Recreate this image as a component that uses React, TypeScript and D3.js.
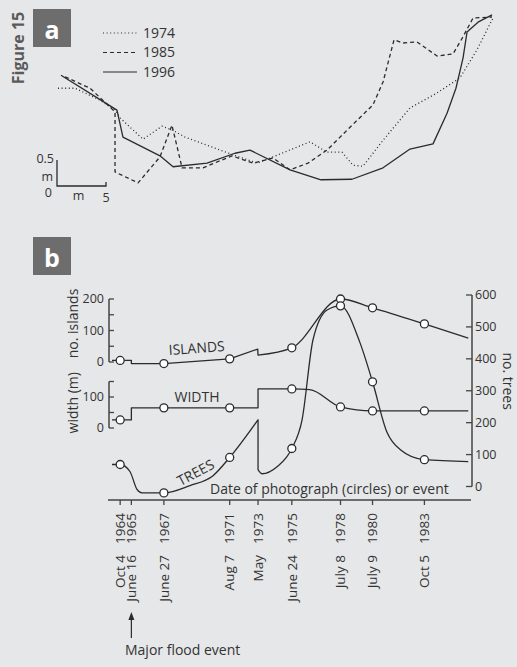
import { useEffect } from 'react';
import * as d3 from 'd3';

const W = 517;
const H = 667;
const BG = '#e6e7e9';
const INK = '#2b2b2b';
const TXT = '#333333';
const AXIS = '#454545';
const FONT = '"Open Sans", "Noto Sans", sans-serif';

// ---- panel a: channel cross-profiles (distance m, height m) ----
const legendYears = ['1974', '1985', '1996'];
const legendDash = ['1 2.6', '4 3', 'none'];

const profile1974: [number, number][] = [
    [0.1, 1.88], [1.84, 1.88], [4.39, 1.65], [5.92, 1.46], [6.43, 1.31], [8.78, 0.9],
    [10.71, 1.15], [11.73, 1.08], [13.06, 0.94], [17.96, 0.6], [20.41, 0.44], [22.04, 0.56],
    [25.82, 0.85], [27.55, 0.65], [29.08, 0.65], [30.2, 0.4], [31.22, 0.38], [33.27, 0.88],
    [36.02, 1.5], [38.78, 1.79], [41.12, 2.08], [42.86, 2.62], [44.49, 3.23],
];
const profile1985: [number, number][] = [
    [0.82, 2.1], [3.37, 1.88], [5.41, 1.52], [5.92, 1.42], [5.92, 0.27], [8.27, 0.06],
    [10.51, 0.56], [11.73, 1.17], [12.76, 0.35], [14.9, 0.35], [17.86, 0.58], [20.0, 0.44],
    [22.04, 0.54], [23.78, 0.31], [25.61, 0.44], [27.55, 0.69], [29.9, 1.13], [32.24, 1.56],
    [33.27, 2.0], [34.39, 2.81], [35.31, 2.75], [36.73, 2.77], [38.78, 2.5], [40.41, 2.54],
    [41.43, 2.87], [42.45, 3.23], [44.39, 3.25],
];
const profile1996: [number, number][] = [
    [0.41, 2.13], [6.12, 1.46], [6.73, 0.94], [10.51, 0.58], [11.84, 0.37], [15.31, 0.44],
    [18.16, 0.63], [19.69, 0.69], [23.78, 0.31], [26.94, 0.12], [30.1, 0.13], [33.27, 0.35],
    [36.02, 0.71], [38.37, 0.81], [39.8, 1.4], [40.71, 1.88], [41.43, 2.46], [41.84, 2.96],
    [42.96, 3.15], [44.39, 3.29],
];

// ---- panel b: time series (decimal year, value) ----
const eventYears = [1964.76, 1965.46, 1967.49, 1971.6, 1973.37, 1975.48, 1978.52, 1980.52, 1983.76];
const yearLabels = ['1964', '1965', '1967', '1971', '1973', '1975', '1978', '1980', '1983'];
const dateLabels = ['Oct 4', 'June 16', 'June 27', 'Aug 7', 'May', 'June 24', 'July 8', 'July 9', 'Oct 5'];
const photoYears = [1964.76, 1967.49, 1971.6, 1975.48, 1978.52, 1980.52, 1983.76];

const islandsSegs: [number, number][][] = [
    [[1964.25, 5], [1964.76, 5], [1965.46, 5]],
    [[1965.46, -5], [1967.49, -5], [1971.6, 10], [1973.35, 41]],
    [[1973.37, 22], [1975.48, 45], [1978.52, 200], [1980.52, 172], [1983.76, 121], [1986.5, 76]],
];
const islandsSmooth = [false, false, true];

const widthSegs: [number, number][][] = [
    [[1964.25, 26], [1964.76, 26], [1965.46, 26]],
    [[1965.46, 65], [1967.49, 65], [1971.6, 65], [1973.37, 65]],
    [[1973.37, 126], [1975.48, 126], [1976.6, 124], [1978.52, 68], [1980.52, 55], [1983.76, 55], [1986.5, 55]],
];
const widthSmooth = [false, false, true];

const treesSegs: [number, number][][] = [
    [[1964.25, 69], [1964.76, 69], [1965.37, 47], [1965.81, -9], [1966.12, -20], [1967.49, -20],
        [1969.12, 3], [1970.56, 34], [1971.6, 91], [1973.37, 209]],
    [[1973.37, 53], [1973.62, 40], [1974.56, 62], [1975.48, 119], [1976.12, 209], [1976.8, 459],
        [1977.68, 553], [1978.52, 566], [1979.74, 450], [1980.52, 328], [1981.43, 169],
        [1982.24, 116], [1983.76, 84], [1986.5, 78]],
];
const treesSmooth = [true, true];

const islandsTicks = [0, 50, 100, 150, 200];
const widthTicks = [0, 50, 100, 150];
const treesTicks = [0, 100, 200, 300, 400, 500, 600];

function Label({ x, y, text }: { x: number; y: number; text: string }) {
    return (
        <g>
            <rect x={x} y={y} width={38} height={38} fill="#6d6d6d" />
            <text x={x + 19} y={y + 20} fill="#fff" fontSize={25} fontWeight="bold"
                textAnchor="middle" dominantBaseline="central" fontFamily={FONT}>{text}</text>
        </g>
    );
}

export default function App() {
    useEffect(() => {
        document.body.style.margin = '0';
        document.body.style.background = BG;
    }, []);

    // panel a scales
    const xA = d3.scaleLinear().domain([0, 5]).range([57, 106]);
    const yA = d3.scaleLinear().domain([0, 0.5]).range([186, 160]);
    const profLine = d3.line<[number, number]>().x((d) => xA(d[0])).y((d) => yA(d[1]));
    const profiles = [profile1974, profile1985, profile1996];

    // panel b scales
    const x = d3.scaleLinear().domain([1964, 1986.67]).range([108, 471]);
    const yIsl = d3.scaleLinear().domain([0, 200]).range([362, 299]);
    const yWid = d3.scaleLinear().domain([0, 100]).range([428, 397]);
    const yTree = d3.scaleLinear().domain([0, 600]).range([486.5, 295]);

    const seriesPath = (segs: [number, number][][], smooth: boolean[], y: d3.ScaleLinear<number, number>) =>
        segs
            .map((s, i) => {
                const ln = d3.line<[number, number]>()
                    .x((d) => x(d[0]))
                    .y((d) => y(d[1]))
                    .curve(smooth[i] ? d3.curveMonotoneX : d3.curveLinear);
                return ln(s)!.replace(/^M/, i ? 'L' : 'M');
            })
            .join('');

    const circlesOf = (segs: [number, number][][], y: d3.ScaleLinear<number, number>) => {
        const seen = new Set<number>();
        return segs.flat().filter((p) => {
            if (!photoYears.includes(p[0]) || seen.has(p[0])) return false;
            seen.add(p[0]);
            return true;
        }).map((p) => ({ cx: x(p[0]), cy: y(p[1]) }));
    };

    const series = [
        { segs: islandsSegs, smooth: islandsSmooth, y: yIsl },
        { segs: widthSegs, smooth: widthSmooth, y: yWid },
        { segs: treesSegs, smooth: treesSmooth, y: yTree },
    ];

    const axisY = 500;

    return (
        <svg width={W} height={H} style={{ display: 'block', background: BG }} fontFamily={FONT}>
            <rect width={W} height={H} fill={BG} />

            {/* figure title */}
            <text transform="translate(24,48) rotate(-90)" textAnchor="middle" fontSize={16}
                fontWeight="bold" fill="#5a5a5a">Figure 15</text>

            <Label x={33} y={9} text="a" />
            <Label x={33} y={237} text="b" />

            {/* panel a legend */}
            {legendYears.map((yr, i) => (
                <g key={yr}>
                    <line x1={103} x2={137} y1={33 + i * 19.5} y2={33 + i * 19.5} stroke={INK}
                        strokeWidth={1.2} strokeDasharray={legendDash[i]} />
                    <text x={143} y={33 + i * 19.5} dy="0.35em" fontSize={14} fill={TXT}>{yr}</text>
                </g>
            ))}

            {/* panel a profiles */}
            {profiles.map((p, i) => (
                <path key={i} d={profLine(p)!} fill="none" stroke={INK} strokeWidth={1.3}
                    strokeDasharray={legendDash[i]} strokeLinejoin="round" />
            ))}

            {/* panel a scale bar */}
            <path d={`M${xA(0)},${yA(0.5)}V${yA(0)}H${xA(5)}V${yA(0) - 4}`} fill="none" stroke={INK} strokeWidth={1.3} />
            <text x={xA(0) - 3} y={yA(0.5) + 3} textAnchor="end" fontSize={12.5} fill={TXT}>0.5</text>
            <text x={xA(0) - 4} y={181} textAnchor="end" fontSize={12.5} fill={TXT}>m</text>
            <text x={xA(0) - 5} y={yA(0) + 7} dy="0.35em" textAnchor="end" fontSize={12.5} fill={TXT}>0</text>
            <text x={xA(2.2)} y={yA(0) + 10} dy="0.35em" textAnchor="middle" fontSize={12.5} fill={TXT}>m</text>
            <text x={xA(5)} y={yA(0) + 12} dy="0.35em" textAnchor="middle" fontSize={12.5} fill={TXT}>5</text>

            {/* panel b left axes */}
            <line x1={109} x2={109} y1={yIsl(200)} y2={yIsl(0)} stroke={AXIS} strokeWidth={1.5} />
            {islandsTicks.map((t) => (
                <g key={'i' + t}>
                    <line x1={109} x2={114} y1={yIsl(t)} y2={yIsl(t)} stroke={AXIS} strokeWidth={1.3} />
                    {t % 100 === 0 && (
                        <text x={104} y={yIsl(t)} dy="0.35em" textAnchor="end" fontSize={12.5} fill={TXT}>{t}</text>
                    )}
                </g>
            ))}
            <line x1={109} x2={109} y1={yWid(150)} y2={yWid(0)} stroke={AXIS} strokeWidth={1.5} />
            {widthTicks.map((t) => (
                <g key={'w' + t}>
                    <line x1={109} x2={114} y1={yWid(t)} y2={yWid(t)} stroke={AXIS} strokeWidth={1.3} />
                    {t % 100 === 0 && (
                        <text x={104} y={yWid(t)} dy="0.35em" textAnchor="end" fontSize={12.5} fill={TXT}>{t}</text>
                    )}
                </g>
            ))}
            <text transform={`translate(78,${(yIsl(0) + yIsl(200)) / 2 - 7}) rotate(-90)`} textAnchor="middle"
                fontSize={14} fill={TXT}>no. islands</text>
            <text transform={`translate(78,${(yWid(0) + yWid(150)) / 2 - 2}) rotate(-90)`} textAnchor="middle"
                fontSize={14} fill={TXT}>width (m)</text>

            {/* panel b right axis */}
            <line x1={472} x2={472} y1={yTree(600)} y2={yTree(0)} stroke={AXIS} strokeWidth={1.5} />
            {treesTicks.map((t) => (
                <g key={'t' + t}>
                    <line x1={466} x2={472} y1={yTree(t)} y2={yTree(t)} stroke={AXIS} strokeWidth={1.3} />
                    <text x={475} y={yTree(t)} dy="0.35em" fontSize={12.5} fill={TXT}>{t}</text>
                </g>
            ))}
            <text transform={`translate(503,${yTree(330)}) rotate(90)`} textAnchor="middle"
                fontSize={14} fill={TXT}>no. trees</text>

            {/* x axis */}
            <line x1={108} x2={471} y1={axisY} y2={axisY} stroke={AXIS} strokeWidth={1.5} />
            {eventYears.map((t, i) => (
                <g key={'x' + i} transform={`translate(${x(t)},0)`}>
                    <line y1={axisY} y2={axisY + 5} stroke={AXIS} strokeWidth={1.3} />
                    <text transform={`translate(0,${axisY + 13}) rotate(-90)`} dy="0.35em" textAnchor="end"
                        fontSize={13.5} fill={TXT}>{yearLabels[i]}</text>
                    <text transform={`translate(0,${axisY + 55}) rotate(-90)`} dy="0.35em" textAnchor="end"
                        fontSize={13.5} fill={TXT}>{dateLabels[i]}</text>
                </g>
            ))}
            <text x={210} y={494} fontSize={14} fill={TXT}>Date of photograph (circles) or event</text>

            {/* flood arrow */}
            <line x1={x(1965.46)} x2={x(1965.46)} y1={638} y2={617} stroke={INK} strokeWidth={1.2} />
            <path d={`M${x(1965.46)},612 l-3,8 h6 z`} fill={INK} />
            <text x={125} y={655} fontSize={14} fill={TXT}>Major flood event</text>

            {/* series */}
            {series.map((s, i) => (
                <path key={'s' + i} d={seriesPath(s.segs, s.smooth, s.y)} fill="none" stroke={INK}
                    strokeWidth={1.3} strokeLinejoin="round" />
            ))}
            {series.map((s, i) =>
                circlesOf(s.segs, s.y).map((c, j) => (
                    <circle key={`c${i}-${j}`} cx={c.cx} cy={c.cy} r={4} fill="#fff" stroke={INK} strokeWidth={1.3} />
                ))
            )}

            {/* series labels */}
            <text transform="translate(197,353) rotate(-4)" textAnchor="middle" fontSize={14} fill={TXT}>ISLANDS</text>
            <text x={197} y={402} textAnchor="middle" fontSize={14} fill={TXT}>WIDTH</text>
            <text transform="translate(198,477) rotate(-28)" textAnchor="middle" fontSize={14} fill={TXT}>TREES</text>
        </svg>
    );
}
